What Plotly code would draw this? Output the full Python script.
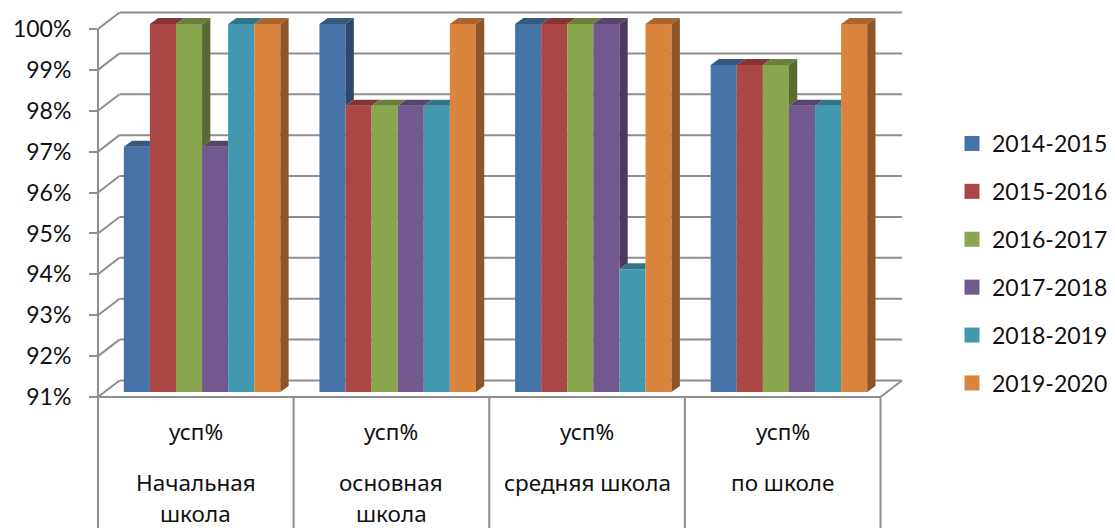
import plotly.graph_objects as go

# ---- data ----
group_top = ["усп%", "усп%", "усп%", "усп%"]
group_names = [["Начальная", "школа"], ["основная", "школа"], ["средняя школа"], ["по школе"]]
years = ["2014-2015", "2015-2016", "2016-2017", "2017-2018", "2018-2019", "2019-2020"]
v1415 = [97, 100, 100, 99]
v1516 = [100, 98, 100, 99]
v1617 = [100, 98, 100, 99]
v1718 = [97, 98, 100, 98]
v1819 = [100, 98, 94, 98]
v1920 = [100, 100, 100, 100]
series = [v1415, v1516, v1617, v1718, v1819, v1920]
y_ticks = [91, 92, 93, 94, 95, 96, 97, 98, 99, 100]

front = ["#4573A7", "#AA4643", "#89A54E", "#71588F", "#4198AF", "#DB843D"]
top_c = ["#35587F", "#833634", "#6A7F3C", "#57446E", "#327587", "#A9652F"]
side_c = ["#2D4A6D", "#6F2E2C", "#596B33", "#4A3A5D", "#2B6372", "#8E5628"]
LINE = "#8E8E8E"
TEXT = "#111111"
FONT = "Lato"
CAT_FONT = "Noto Sans"

# ---- page geometry (pixels) ----
W, H = 1115, 528
PX_L, PX_R = 97.5, 904
PX_T, PX_B = 12, 397
PX_CELL = 195.75
PX_UNIT = 40.89
xmax = (PX_R - PX_L) / PX_CELL
ymax = 91 + (PX_B - PX_T) / PX_UNIT
# wall depth and bar depth, in axis units
WALL_DX, WALL_DY = 21.5 / PX_CELL, 16.5 / PX_UNIT
BAR_DX, BAR_DY = 8.3 / PX_CELL, 6 / PX_UNIT
# bars stand part way into the floor
SHIFT_X, SHIFT_Y = 0.032, 5 / PX_UNIT
GROUP = 0.8
BW = GROUP / len(years)

fig = go.Figure()

# bars
for k, (name, vals) in enumerate(zip(years, series)):
    fig.add_trace(go.Bar(
        x=[i + 0.5 for i in range(len(vals))], y=[v - 91 for v in vals], base=91,
        name=name, width=BW, offset=-GROUP / 2 + k * BW,
        marker=dict(color=front[k], line=dict(width=0)),
        xaxis="x2", yaxis="y2", showlegend=False, hoverinfo="skip",
    ))

# visible 3D faces, derived from the values
for k, vals in enumerate(series):
    tx, ty, sx, sy = [], [], [], []
    for i, v in enumerate(vals):
        L = i + 0.5 - GROUP / 2 + k * BW
        R = L + BW
        nxt = series[k + 1][i] if k + 1 < len(series) else 91
        top_r = R if nxt > v else R + BAR_DX
        tx += [L, L + BAR_DX, top_r, R, L, None]
        ty += [v, v + BAR_DY, v + BAR_DY, v, v, None]
        if nxt < v:
            low = nxt if k + 1 < len(series) else 91
            sx += [R, R + BAR_DX, R + BAR_DX, R, R, None]
            sy += [v, v + BAR_DY, low + BAR_DY, low, v, None]
    fig.add_trace(go.Scatter(x=tx, y=ty, mode="lines", fill="toself", fillcolor=top_c[k],
                             line=dict(width=0), xaxis="x2", yaxis="y2",
                             showlegend=False, hoverinfo="skip"))
    if sx:
        fig.add_trace(go.Scatter(x=sx, y=sy, mode="lines", fill="toself", fillcolor=side_c[k],
                                 line=dict(width=0), xaxis="x2", yaxis="y2",
                                 showlegend=False, hoverinfo="skip"))

# legend entries
for k, name in enumerate(years):
    fig.add_trace(go.Scatter(x=[None], y=[None], mode="markers", name=name, legendgroup=name,
                             marker=dict(symbol="square", size=15, color=front[k])))

# chart walls, in paper fractions so they are not clipped at the plot edge
shapes = []
def px_frac(x):
    return x / xmax
def py_frac(y):
    return (y - 91) / (ymax - 91)
def seg(x0, y0, x1, y1):
    shapes.append(dict(type="line", layer="below", xref="paper", yref="paper",
                       x0=px_frac(x0), y0=py_frac(y0), x1=px_frac(x1), y1=py_frac(y1),
                       line=dict(color=LINE, width=2)))

n = len(group_top)
for t in y_ticks:
    seg(0, t, WALL_DX, t + WALL_DY)
    seg(WALL_DX, t + WALL_DY, n + WALL_DX, t + WALL_DY)
seg(0, 91, 0, 100)
seg(0, 91, n, 91)
seg(n, 91, n + WALL_DX, 91 + WALL_DY)
table_bottom = 91 - (H + 4 - PX_B) / PX_UNIT
for i in range(n + 1):
    seg(i, 91, i, table_bottom)

ann = []
def py(px):
    return 1 - (px - PX_T) / (PX_B - PX_T)
for i in range(n):
    rows = [(group_top[i], 432)]
    rows.append((group_names[i][0], 482))
    if len(group_names[i]) > 1:
        rows.append((group_names[i][1], 513))
    for txt, px in rows:
        ann.append(dict(text=txt, x=i + 0.5, xref="x", y=py(px), yref="paper", showarrow=False,
                        xanchor="center", yanchor="middle",
                        font=dict(family=CAT_FONT, size=22.5, color=TEXT)))

fig.update_layout(
    width=W, height=H, autosize=False,
    margin=dict(l=PX_L, r=W - PX_R, t=PX_T, b=H - PX_B, pad=0),
    paper_bgcolor="white", plot_bgcolor="white",
    barmode="overlay",
    shapes=shapes, annotations=ann,
    xaxis=dict(range=[0, xmax], showgrid=False, zeroline=False, showticklabels=False,
               ticks="", showline=False),
    yaxis=dict(range=[91, ymax], tickvals=y_ticks, ticktext=[f"{t}%" for t in y_ticks],
               showgrid=False, zeroline=False, showline=False, ticks="outside", ticklen=8,
               tickwidth=2, tickcolor=LINE, ticklabelstandoff=13,
               tickfont=dict(family=FONT, size=23, color=TEXT)),
    xaxis2=dict(range=[-SHIFT_X, xmax - SHIFT_X], overlaying="x", visible=False, anchor="y2"),
    yaxis2=dict(range=[91 - SHIFT_Y, ymax - SHIFT_Y], overlaying="y", visible=False, anchor="x2"),
    legend=dict(x=952 / W, xanchor="left", y=1 - 122 / H, yanchor="top", xref="container", yref="container",
                traceorder="grouped", tracegroupgap=15, bgcolor="rgba(0,0,0,0)", maxheight=400,
                font=dict(family=FONT, size=23, color=TEXT), itemwidth=30),
    showlegend=True,
)
fig.write_html("out.html", config={"displayModeBar": False},
               post_script="document.body.style.margin='0';")
